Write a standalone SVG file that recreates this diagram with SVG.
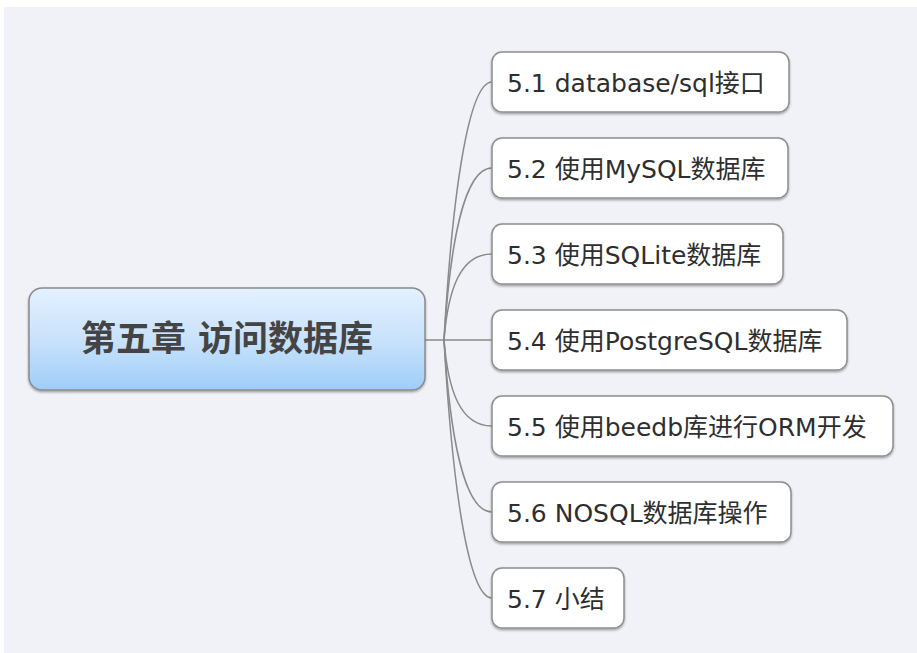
<svg xmlns="http://www.w3.org/2000/svg" width="917" height="653" viewBox="0 0 917 653">
<defs>
<linearGradient id="rootGrad" x1="0" y1="0" x2="0" y2="1">
<stop offset="0" stop-color="#e4f1fe"/>
<stop offset="0.5" stop-color="#c9e2fb"/>
<stop offset="1" stop-color="#9fcdf8"/>
</linearGradient>
<filter id="shadow" x="-5%" y="-10%" width="110%" height="130%">
<feDropShadow dx="0" dy="1.5" stdDeviation="0.8" flood-color="#000" flood-opacity="0.35"/>
</filter>
</defs>
<style>
.bg{fill:#f1f2f8}
.child{fill:#ffffff;stroke:#8f8f8f;stroke-width:1.5;filter:url(#shadow)}
.root{fill:url(#rootGrad);stroke:#8a8a8a;stroke-width:1.5;filter:url(#shadow)}
.ct{font-family:"DejaVu Sans","Noto Sans CJK SC",sans-serif;font-size:25px;fill:#2e2e2e}
.rt{font-family:"DejaVu Sans","Noto Sans CJK SC",sans-serif;font-size:35px;font-weight:bold;fill:#444444;text-anchor:middle}
.conn{fill:none;stroke:#8a8a8a;stroke-width:1.5}
</style>
<rect class="bg" x="4" y="7" width="913" height="646"/>
<g id="connectors">
<path class="conn" d="M425,340 H492"/>
<path class="conn" d="M444,340 C452,198 468,82 492,82"/>
<path class="conn" d="M444,340 C450,245 464,168 492,168"/>
<path class="conn" d="M444,340 C448,290 460,254 492,254"/>
<path class="conn" d="M444,340 C448,390 460,426 492,426"/>
<path class="conn" d="M444,340 C450,435 464,512 492,512"/>
<path class="conn" d="M444,340 C452,482 468,598 492,598"/>
</g>
<g id="root">
<rect class="root" x="29" y="288" width="396" height="102" rx="13"/>
<text class="rt" x="227" y="351">第五章 访问数据库</text>
</g>
<g id="n51">
<rect class="child" x="492" y="52" width="297" height="60" rx="10"/>
<text class="ct" x="507" y="92">5.1 database/sql接口</text>
</g>
<g id="n52">
<rect class="child" x="492" y="138" width="296" height="60" rx="10"/>
<text class="ct" x="507" y="178">5.2 使用MySQL数据库</text>
</g>
<g id="n53">
<rect class="child" x="492" y="224" width="291" height="60" rx="10"/>
<text class="ct" x="507" y="264">5.3 使用SQLite数据库</text>
</g>
<g id="n54">
<rect class="child" x="492" y="310" width="355" height="60" rx="10"/>
<text class="ct" x="507" y="350">5.4 使用PostgreSQL数据库</text>
</g>
<g id="n55">
<rect class="child" x="492" y="396" width="401" height="60" rx="10"/>
<text class="ct" x="507" y="436">5.5 使用beedb库进行ORM开发</text>
</g>
<g id="n56">
<rect class="child" x="492" y="482" width="299" height="60" rx="10"/>
<text class="ct" x="507" y="522">5.6 NOSQL数据库操作</text>
</g>
<g id="n57">
<rect class="child" x="492" y="568" width="132" height="60" rx="10"/>
<text class="ct" x="507" y="608">5.7 小结</text>
</g>
</svg>
